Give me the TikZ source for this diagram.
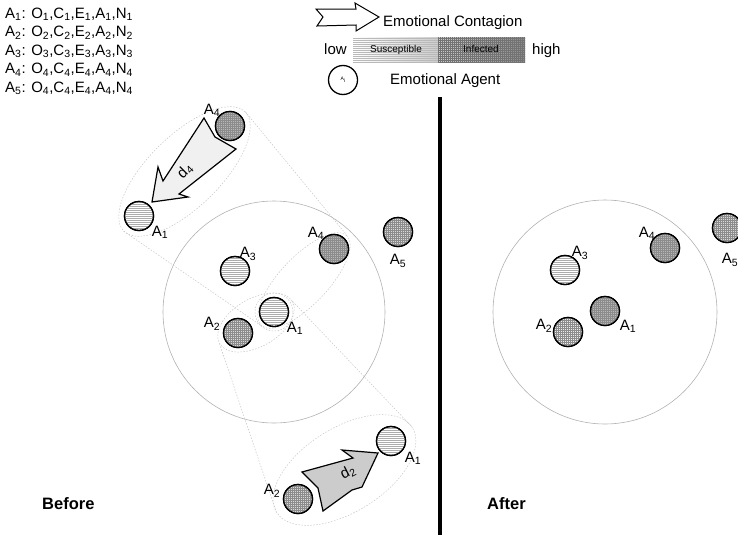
\documentclass[tikz,border=0pt]{standalone}
\usepackage{fontspec}
\setmainfont{Liberation Sans}
\usetikzlibrary{shapes.geometric, patterns.meta}

\newcommand\ix[1]{\textsubscript{#1}}
\newcommand\ag[1]{A\textsubscript{#1}}

\tikzset{
  agent/.style={circle, draw, line width=1.3pt, minimum size=29pt, inner sep=0pt},
  sus/.style={agent, fill=white, postaction={pattern={Lines[angle=0,distance=2pt,line width=0.6pt]}, pattern color=gray!65, draw, line width=1.3pt}},
  inf/.style={agent, fill=#1, postaction={pattern={Hatch[angle=0,distance=2pt,line width=0.4pt]}, pattern color=black!45, draw, line width=1.3pt}},
  world/.style={circle, draw=gray!60, line width=0.6pt, minimum size=222pt, inner sep=0pt},
  zoomell/.style={ellipse, draw=gray!45, line width=0.5pt, dash pattern=on 1.5pt off 1.5pt, inner sep=0pt},
  zoomlink/.style={draw=gray!45, line width=0.5pt, dash pattern=on 1.5pt off 1.5pt},
  blockarrow/.style={draw, line width=1.2pt, line join=miter}
}

\begin{document}
\begin{tikzpicture}[x=1pt, y=-1pt, font=\fontsize{15}{18}\selectfont, inner sep=1pt]
  \useasboundingbox (0,0) rectangle (738,538);

  % legend
  \foreach \i/\k in {1/1,2/2,3/3,4/4,5/4} {
    \node[anchor=base west] (trait\i) at (4,{18.3+18.5*(\i-1)}) {A\ix{\i}: O\ix{\k},C\ix{\k},E\ix{\k},A\ix{\k},N\ix{\k}};
  }
  \draw[blockarrow, line width=1pt, fill=white] (316,9) -- (356,9) -- (355,3) -- (379,17) -- (356,31) -- (356,25) -- (317,26) -- (323,17) -- cycle;
  \node[anchor=base west] (contagion) at (382,26) {Emotional Contagion};
  \path[left color=white, right color=gray!40, postaction={pattern={Lines[angle=0,distance=2pt,line width=0.5pt]}, pattern color=gray!55}] (353,37) rectangle (438,62);
  \path[left color=gray!40, right color=gray!90, postaction={pattern={Hatch[angle=0,distance=2pt,line width=0.4pt]}, pattern color=black!55}] (438,37) rectangle (525,62);
  \node[anchor=base, font=\fontsize{10}{12}\selectfont] (susc) at (396,52) {Susceptible};
  \node[anchor=base, font=\fontsize{10}{12}\selectfont] (infec) at (481,52) {Infected};
  \node[anchor=base west] (low) at (323,54.5) {low};
  \node[anchor=base west] (high) at (531,54.5) {high};
  \node[agent, fill=white] (legagent) at (343,80) {\fontsize{5}{6}\selectfont A\ix{i}};
  \node[anchor=base west] (agenttxt) at (389,84) {Emotional Agent};

  % divider
  \draw[line width=4pt] (440,97) -- (440,535);
  \node[anchor=base west, font=\fontsize{16.5}{20}\bfseries] (before) at (41,509) {Before};
  \node[anchor=base west, font=\fontsize{16.5}{20}\bfseries] (after) at (486,509) {After};

  % worlds
  \node[world] (worldB) at (274,312) {};
  \node[world, minimum size=224pt] (worldA) at (605,312) {};

  % interaction areas
  \node[zoomell, minimum width=170pt, minimum height=72pt, rotate=44.4] (eTop) at (184.5,171.5) {};
  \node[zoomell, minimum width=124pt, minimum height=48pt, rotate=46.4] (eIn) at (304,280.5) {};
  \node[zoomell, minimum width=84pt, minimum height=48pt, rotate=30] (eLow) at (256,322.5) {};
  \node[zoomell, minimum width=160pt, minimum height=84pt, rotate=32] (eBot) at (344.5,470) {};
  \node[zoomell, circle, minimum size=38pt] (eA1) at (274,312) {};
  \draw[zoomlink] (eTop.east) -- (eIn.east);
  \draw[zoomlink] (eTop.west) -- (eIn.west);
  \draw[zoomlink] (eLow.west) -- (eBot.west);
  \draw[zoomlink] (eLow.east) -- (eBot.east);

  % contagion arrows
  \draw[blockarrow, fill=gray!12] (152,202) -- (158,167) -- (163,181) -- (204,118) -- (215,137) -- (236,149) -- (179,194) -- (188,197) -- cycle;
  \node[rotate=45] (d4) at (185,171) {d\ix{4}};
  \draw[blockarrow, fill=gray!40] (302,472) -- (353,458) -- (342,450) -- (378,453) -- (362,487) -- (352,490) -- (323,511) -- (318,488) -- cycle;
  \node[rotate=27] (d2) at (348,472) {d\ix{2}};

  % agents before
  \node[inf=gray!55] (bA4top) at (230,126) {};
  \node[sus] (bA1top) at (139,216) {};
  \node[sus] (bA3) at (235,271) {};
  \node[inf=gray!55] (bA4) at (334,249) {};
  \node[inf=gray!30] (bA5) at (398,232) {};
  \node[sus] (bA1) at (274,312) {};
  \node[inf=gray!30] (bA2) at (238,333) {};
  \node[sus] (bA1bot) at (391,441) {};
  \node[inf=gray!30] (bA2bot) at (298,499) {};
  \node (lA4top) at (212,110) {\ag4};
  \node (lA1top) at (160,232) {\ag1};
  \node (lA3) at (248,254) {\ag3};
  \node (lA4) at (316,233) {\ag4};
  \node (lA5) at (398,261) {\ag5};
  \node (lA1) at (295,328) {\ag1};
  \node (lA2) at (212,324) {\ag2};
  \node (lA1bot) at (413,458) {\ag1};
  \node (lA2bot) at (272,491) {\ag2};

  % agents after
  \node[sus] (aA3) at (565,270) {};
  \node[inf=gray!55] (aA4) at (665,248) {};
  \node[inf=gray!30] (aA5) at (727,228) {};
  \node[inf=gray!55] (aA1) at (605,311) {};
  \node[inf=gray!15] (aA2) at (568,332) {};
  \node (mA3) at (580,253) {\ag3};
  \node (mA4) at (647,233) {\ag4};
  \node (mA5) at (730,260) {\ag5};
  \node (mA1) at (628,326) {\ag1};
  \node (mA2) at (544,326) {\ag2};
\end{tikzpicture}
\end{document}
